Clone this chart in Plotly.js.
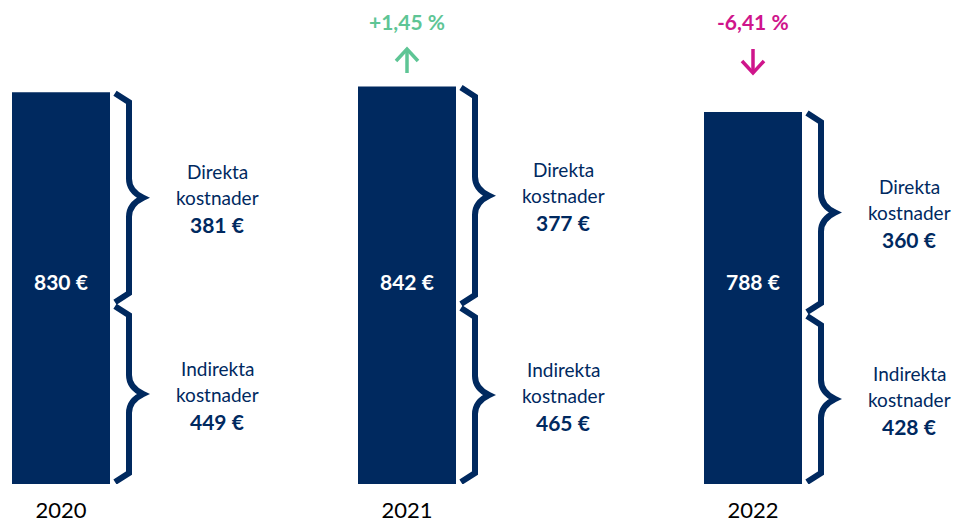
<!DOCTYPE html>
<html>
<head>
<meta charset="utf-8">
<script src="https://cdn.plot.ly/plotly-3.0.1.min.js"></script>
<style>html,body{margin:0;padding:0;background:#fff;}#chart{width:955px;height:524px;}</style>
</head>
<body>
<div id="chart"></div>
<script>
var years = ['2020', '2021', '2022'];
var totals = [830, 842, 788];
var direct = [381, 377, 360];
var indirect = [449, 465, 428];
var changeLabels = ['', '+1,45 %', '-6,41 %'];
var changeDir = [0, 1, -1];
var directLabel = ['Direkta', 'kostnader'];
var indirectLabel = ['Indirekta', 'kostnader'];

var NAVY = '#00295f';
var GREEN = '#5ec595';
var MAGENTA = '#cf158b';
var FONT = 'Lato, "Open Sans", sans-serif';

var W = 955, H = 524, MB = 40;
var plotH = H - MB;
var pxPerX = 346;
var xRange = [-61 / pxPerX, -61 / pxPerX + W / pxPerX];
var pxPerY = 0.472;
var yRange = [0, plotH / pxPerY];
var kx = 1 / pxPerX, ky = 1 / pxPerY;
function pp(py) { return 1 - py / plotH; }

var shapes = [];
var annotations = [];

function brace(i, y0, y1) {
  var xa = i + 54 * kx, xs = i + 68 * kx, xc = i + 82 * kx;
  var arm = 9 * ky, c = 19 * ky, ym = (y0 + y1) / 2;
  var d = 'M ' + xa + ' ' + y1 +
    ' L ' + xs + ' ' + (y1 - arm) +
    ' L ' + xs + ' ' + (ym + c) +
    ' Q ' + xs + ' ' + (ym + c * 0.35) + ' ' + xc + ' ' + ym +
    ' Q ' + xs + ' ' + (ym - c * 0.35) + ' ' + xs + ' ' + (ym - c) +
    ' L ' + xs + ' ' + (y0 + arm) +
    ' L ' + xa + ' ' + y0;
  shapes.push({type: 'path', xref: 'x', yref: 'y', path: d,
    line: {color: NAVY, width: 6}, fillcolor: 'rgba(0,0,0,0)'});
  return ym;
}

function ann(o) {
  o.showarrow = false;
  o.xanchor = 'center';
  o.yanchor = 'middle';
  annotations.push(o);
}

function labelGroup(i, ym, lines, value) {
  var x = i + 156 * kx;
  ann({x: x, y: ym, xref: 'x', yref: 'y', yshift: 26, text: lines[0],
    font: {family: FONT, size: 19, color: NAVY}});
  ann({x: x, y: ym, xref: 'x', yref: 'y', yshift: 0, text: lines[1],
    font: {family: FONT, size: 19, color: NAVY}});
  ann({x: x, y: ym, xref: 'x', yref: 'y', yshift: -27, text: '<b>' + value + ' €</b>',
    font: {family: FONT, size: 21, color: NAVY}});
}

for (var i = 0; i < years.length; i++) {
  // top brace spans from direct to total, bottom brace from 0 to direct (as drawn in reference)
  var ymTop = brace(i, direct[i] + 2 * ky, totals[i] - 1 * ky);
  var ymBot = brace(i, 2 * ky, direct[i] - 2 * ky);
  labelGroup(i, ymTop, directLabel, direct[i]);
  labelGroup(i, ymBot, indirectLabel, indirect[i]);

  ann({x: i, y: pp(281), xref: 'x', yref: 'paper', text: '<b>' + totals[i] + ' €</b>',
    font: {family: FONT, size: 21, color: '#ffffff'}});

  if (changeDir[i] !== 0) {
    var col = changeDir[i] > 0 ? GREEN : MAGENTA;
    ann({x: i, y: pp(21), xref: 'x', yref: 'paper', text: '<b>' + changeLabels[i] + '</b>',
      font: {family: FONT, size: 21, color: col}});
    var hw = 11 * kx;
    shapes.push({type: 'line', xref: 'x', yref: 'paper', x0: i, x1: i, y0: pp(49), y1: pp(73),
      line: {color: col, width: 3.5}});
    var tipY = changeDir[i] > 0 ? 49 : 73;
    var baseY = 61;
    shapes.push({type: 'path', xref: 'x', yref: 'paper',
      path: 'M ' + (i - hw) + ' ' + pp(baseY) + ' L ' + i + ' ' + pp(tipY) + ' L ' + (i + hw) + ' ' + pp(baseY),
      line: {color: col, width: 3.5}, fillcolor: 'rgba(0,0,0,0)'});
  }
}

var trace = {
  type: 'bar',
  x: [0, 1, 2],
  y: totals,
  width: 98 / pxPerX,
  marker: {color: NAVY, line: {width: 0}},
  hoverinfo: 'none'
};

var layout = {
  width: W, height: H,
  margin: {l: 0, r: 0, t: 0, b: MB, pad: 0},
  paper_bgcolor: '#ffffff', plot_bgcolor: '#ffffff',
  showlegend: false,
  xaxis: {range: xRange, tickvals: [0, 1, 2], ticktext: years, showgrid: false, zeroline: false,
    showline: false, ticks: '', ticklabelstandoff: 11,
    tickfont: {family: FONT, size: 22, color: '#000000'}, fixedrange: true},
  yaxis: {visible: false, range: yRange, fixedrange: true},
  shapes: shapes,
  annotations: annotations
};

Plotly.newPlot('chart', [trace], layout, {displayModeBar: false, staticPlot: true});
</script>
</body>
</html>
